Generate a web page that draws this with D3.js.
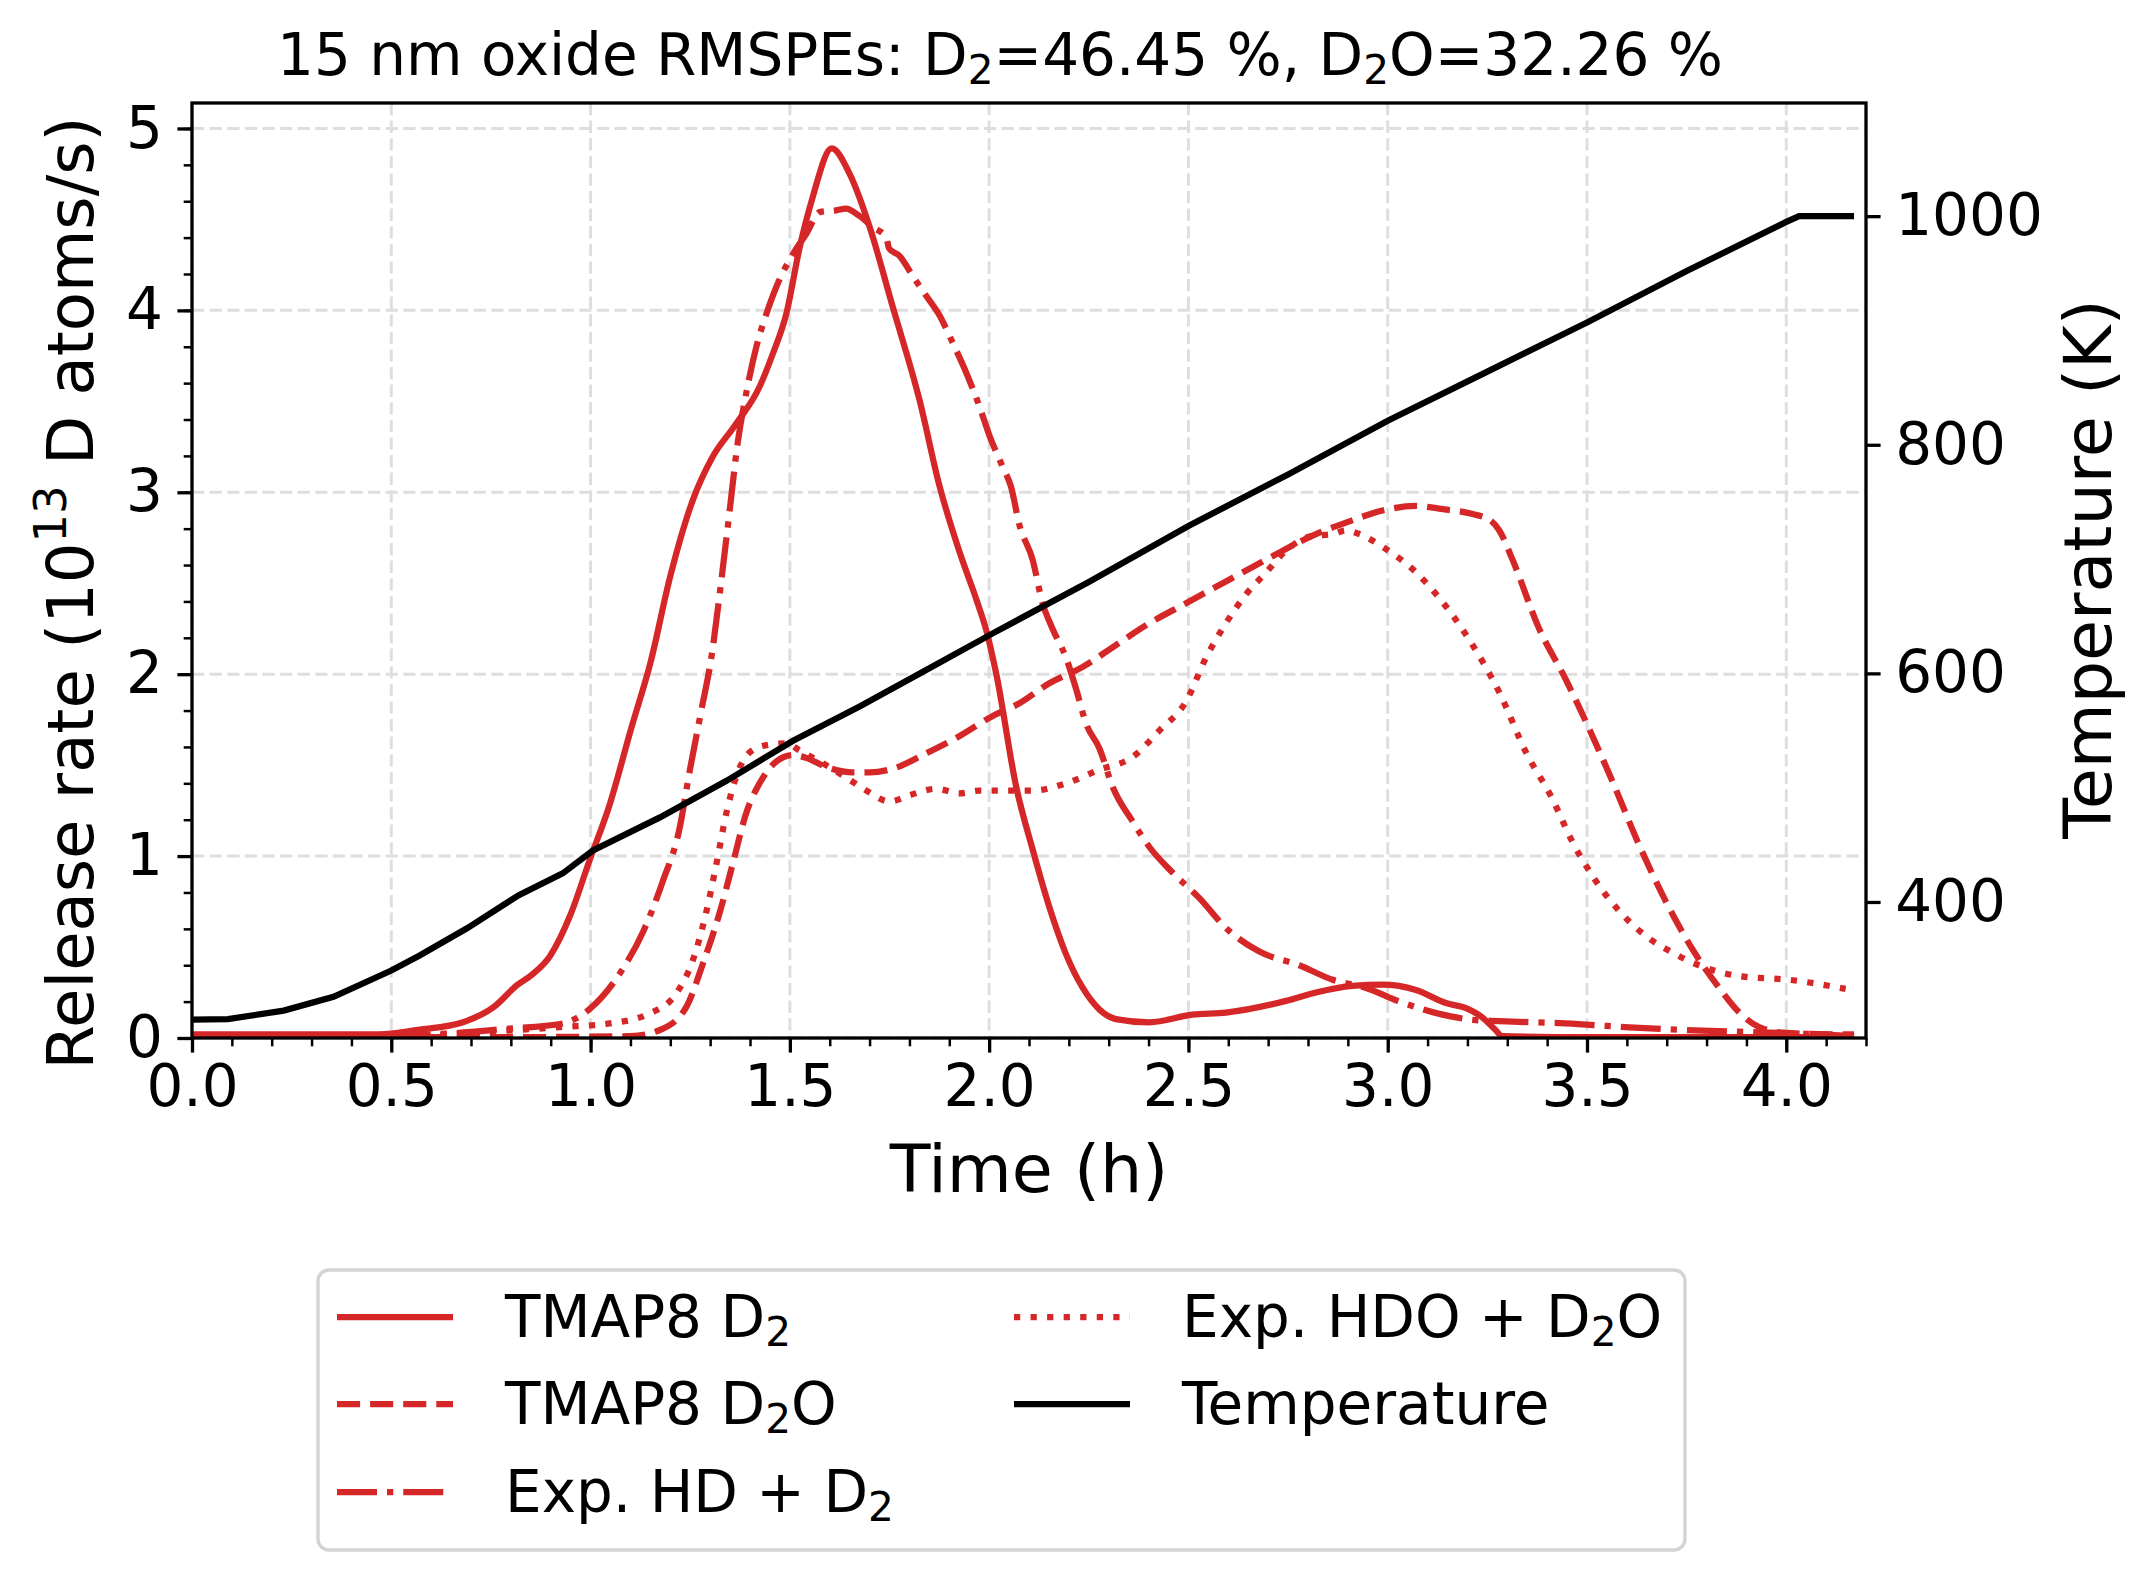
<!DOCTYPE html>
<html>
<head>
<meta charset="utf-8">
<style>
body { margin: 0; background: #fff; }
text { font-family: "DejaVu Sans", sans-serif; fill: #000; }
</style>
</head>
<body>
<script src="https://cdnjs.cloudflare.com/ajax/libs/d3/7.8.5/d3.min.js"></script>
<script>

// TMAP8 D2 (solid)
var d2Time = [0, 0.47, 0.567, 0.68, 0.757, 0.815, 0.854, 0.898, 0.95, 0.998, 1.046, 1.103, 1.151, 1.199, 1.257, 1.305,
  1.363, 1.424, 1.457, 1.491, 1.525, 1.557, 1.605, 1.65, 1.70, 1.758, 1.825, 1.876, 1.926, 1.968, 1.993, 2.018,
  2.068, 2.11, 2.151, 2.193, 2.235, 2.277, 2.318, 2.402, 2.51, 2.594, 2.745, 2.82, 2.911, 2.987, 3.071, 3.146,
  3.195, 3.236, 3.27, 3.287, 3.5, 4.17];
var d2Rate = [0.02, 0.02, 0.045, 0.087, 0.17, 0.29, 0.35, 0.45, 0.68, 0.98, 1.27, 1.71, 2.07, 2.53, 2.96, 3.19,
  3.37, 3.58, 3.76, 3.98, 4.35, 4.62, 4.89, 4.75, 4.46, 4.02, 3.51, 3.03, 2.67, 2.41, 2.24, 2.0,
  1.38, 1.03, 0.72, 0.46, 0.275, 0.156, 0.104, 0.086, 0.128, 0.14, 0.204, 0.25, 0.286, 0.293, 0.264, 0.192,
  0.165, 0.115, 0.045, 0.01, 0.005, 0.005];

// TMAP8 D2O (dashed)
var d2oTime = [0, 0.8, 1.1, 1.174, 1.24, 1.282, 1.324, 1.357, 1.391, 1.424, 1.466, 1.508, 1.541, 1.591, 1.658, 1.70,
  1.758, 1.842, 1.926, 2.009, 2.076, 2.151, 2.235, 2.318, 2.402, 2.494, 2.594, 2.695, 2.82, 2.904, 2.987, 3.071,
  3.129, 3.213, 3.255, 3.28, 3.313, 3.38, 3.447, 3.497, 3.564, 3.631, 3.698, 3.764, 3.83, 3.882, 3.932, 3.999,
  4.13, 4.17];
var d2oRate = [0.005, 0.005, 0.01, 0.044, 0.17, 0.41, 0.69, 0.96, 1.24, 1.40, 1.52, 1.555, 1.54, 1.49, 1.46, 1.46,
  1.48, 1.565, 1.66, 1.77, 1.84, 1.95, 2.04, 2.16, 2.28, 2.39, 2.51, 2.63, 2.77, 2.84, 2.90, 2.925,
  2.91, 2.88, 2.85, 2.79, 2.63, 2.25, 1.97, 1.74, 1.41, 1.06, 0.75, 0.49, 0.28, 0.14, 0.06, 0.028,
  0.02, 0.02];

// Exp. HD + D2 (dash-dot)
var hdTime = [0, 0.3, 0.6, 0.787, 0.93, 0.998, 1.075, 1.133, 1.181, 1.224, 1.248, 1.276, 1.305, 1.325, 1.349, 1.369,
  1.391, 1.416, 1.441, 1.474, 1.508, 1.541, 1.575, 1.616, 1.641, 1.674, 1.707, 1.742, 1.749, 1.775, 1.808, 1.842,
  1.876, 1.909, 1.942, 1.976, 2.001, 2.034, 2.055, 2.076, 2.109, 2.134, 2.159, 2.193, 2.218, 2.243, 2.277, 2.31,
  2.36, 2.402, 2.46, 2.527, 2.594, 2.678, 2.778, 2.862, 2.946, 3.03, 3.155, 3.213, 3.28, 3.447, 3.597, 3.73,
  3.88, 4.05, 4.17];
var hdRate = [0.01, 0.01, 0.02, 0.05, 0.08, 0.16, 0.36, 0.59, 0.86, 1.16, 1.46, 1.78, 2.12, 2.46, 2.90, 3.27,
  3.55, 3.80, 3.98, 4.17, 4.31, 4.42, 4.54, 4.55, 4.56, 4.52, 4.46, 4.40, 4.34, 4.30, 4.19, 4.08,
  3.97, 3.82, 3.66, 3.47, 3.31, 3.14, 3.03, 2.82, 2.63, 2.39, 2.25, 2.09, 1.92, 1.73, 1.59, 1.38,
  1.19, 1.05, 0.91, 0.77, 0.605, 0.475, 0.40, 0.32, 0.275, 0.20, 0.12, 0.10, 0.093, 0.08, 0.06, 0.045,
  0.035, 0.023, 0.01];

// Exp. HDO + D2O (dotted)
var hdoTime = [0, 0.5, 0.787, 0.923, 1.048, 1.148, 1.215, 1.257, 1.29, 1.316, 1.341, 1.366, 1.399, 1.441, 1.491, 1.525,
  1.583, 1.65, 1.692, 1.751, 1.801, 1.867, 1.926, 1.976, 2.059, 2.109, 2.193, 2.277, 2.36, 2.427, 2.494, 2.544,
  2.594, 2.645, 2.695, 2.745, 2.812, 2.862, 2.895, 2.929, 2.987, 3.071, 3.129, 3.213, 3.28, 3.347, 3.413, 3.463,
  3.514, 3.58, 3.648, 3.714, 3.781, 3.882, 4.007, 4.149];
var hdoRate = [0.01, 0.01, 0.04, 0.06, 0.08, 0.135, 0.245, 0.43, 0.69, 0.96, 1.24, 1.44, 1.57, 1.61, 1.62, 1.58,
  1.51, 1.42, 1.36, 1.30, 1.335, 1.37, 1.345, 1.36, 1.36, 1.36, 1.40, 1.475, 1.545, 1.69, 1.85, 2.09,
  2.28, 2.44, 2.56, 2.68, 2.76, 2.77, 2.79, 2.77, 2.70, 2.56, 2.42, 2.16, 1.90, 1.57, 1.315, 1.08,
  0.89, 0.70, 0.56, 0.47, 0.40, 0.34, 0.32, 0.27];

// Temperature (K)
var tempTime = [0, 0.09, 0.23, 0.355, 0.5, 0.57, 0.69, 0.82, 0.93, 1.006, 1.174, 1.341, 1.508, 1.675, 1.842, 2.009,
  2.25, 2.5, 2.75, 3.0, 3.25, 3.5, 3.75, 4.0, 4.032, 4.17];
var tempK = [297, 297.5, 305, 317, 340, 353, 377, 406, 425, 445, 474, 506, 541, 571, 603, 635,
  680, 729, 774, 821, 864, 907, 952, 995, 1000, 1000];

var xTicks = [0, 0.5, 1, 1.5, 2, 2.5, 3, 3.5, 4];
var yTicks = [0, 1, 2, 3, 4, 5];
var tTicks = [400, 600, 800, 1000];

var red = '#d62728';
var W = 2156, H = 1580;
var pl = 192, pr = 1866, pt = 103, pb = 1038;

var x = d3.scaleLinear().domain([0, 4.2]).range([pl, pr]);
var y = d3.scaleLinear().domain([0, 5.14]).range([pb, pt]);
var yT = d3.scaleLinear().domain([281, 1099]).range([pb, pt]);

var svg = d3.select('body').append('svg')
    .attr('width', W)
    .attr('height', H);

svg.append('rect').attr('width', W).attr('height', H).attr('fill', '#fff');

// text with sub/superscripts
function rich(sel, parts, fs) {
  var shift = 0;
  parts.forEach(function(p) {
    var target = p.sub ? fs * 0.15 : p.sup ? -fs * 0.42 : 0;
    sel.append('tspan')
      .attr('dy', target - shift)
      .attr('font-size', (p.sub || p.sup) ? fs * 0.7 : fs)
      .text(p.sub || p.sup || p.t);
    shift = target;
  });
}

// grid
var grid = svg.append('g')
    .attr('stroke', '#dedede')
    .attr('stroke-width', 3)
    .attr('stroke-dasharray', '12.3,5.3');
grid.selectAll('.gx').data(xTicks).enter().append('line')
    .attr('x1', x).attr('x2', x).attr('y1', pt).attr('y2', pb);
grid.selectAll('.gy').data(yTicks).enter().append('line')
    .attr('y1', y).attr('y2', y).attr('x1', pl).attr('x2', pr);

svg.append('clipPath').attr('id', 'clip')
  .append('rect').attr('x', pl).attr('y', pt).attr('width', pr - pl).attr('height', pb - pt);

var plot = svg.append('g').attr('clip-path', 'url(#clip)');

var lineL = d3.line().x(function(d) { return x(d[0]); }).y(function(d) { return y(d[1]); }).curve(d3.curveMonotoneX);
var lineT = d3.line().x(function(d) { return x(d[0]); }).y(function(d) { return yT(d[1]); });

var series = [
  { t: d2Time, v: d2Rate, dash: null },
  { t: d2oTime, v: d2oRate, dash: '23.1,10' },
  { t: hdTime, v: hdRate, dash: '40,10,6.25,10' },
  { t: hdoTime, v: hdoRate, dash: '6.25,10.3' }
];

series.forEach(function(s) {
  plot.append('path')
    .attr('d', lineL(d3.zip(s.t, s.v)))
    .attr('fill', 'none')
    .attr('stroke', red)
    .attr('stroke-width', 6.25)
    .attr('stroke-dasharray', s.dash);
});

plot.append('path')
    .attr('d', lineT(d3.zip(tempTime, tempK)))
    .attr('fill', 'none')
    .attr('stroke', '#000')
    .attr('stroke-width', 6.25);

// axes
var fs = 58, lfs = 66.7;
var xAxis = d3.axisBottom(x).tickValues(xTicks).tickFormat(d3.format('.1f')).tickSizeInner(14.6).tickSizeOuter(0).tickPadding(12);
var xMinor = d3.axisBottom(x).tickValues(d3.range(0, 4.2001, 0.1)).tickFormat('').tickSizeInner(8.3).tickSizeOuter(0);
var yAxis = d3.axisLeft(y).tickValues(yTicks).tickFormat(d3.format('d')).tickSizeInner(14.6).tickSizeOuter(0).tickPadding(14.6);
var yMinor = d3.axisLeft(y).tickValues(d3.range(0, 5.01, 0.2)).tickFormat('').tickSizeInner(8.3).tickSizeOuter(0);
var tAxis = d3.axisRight(yT).tickValues(tTicks).tickFormat(d3.format('d')).tickSizeInner(14.6).tickSizeOuter(0).tickPadding(14.6);

function style(g, w) {
  g.select('.domain').remove();
  g.selectAll('line').attr('stroke', '#000').attr('stroke-width', w);
  g.selectAll('text').attr('font-size', fs).attr('font-family', 'DejaVu Sans').attr('fill', '#000');
}

svg.append('g').attr('transform', 'translate(0,' + pb + ')').call(xMinor).call(style, 2.5);
svg.append('g').attr('transform', 'translate(0,' + pb + ')').call(xAxis).call(style, 3.3);
svg.append('g').attr('transform', 'translate(' + pl + ',0)').call(yMinor).call(style, 2.5);
svg.append('g').attr('transform', 'translate(' + pl + ',0)').call(yAxis).call(style, 3.3);
svg.append('g').attr('transform', 'translate(' + pr + ',0)').call(tAxis).call(style, 3.3);

svg.append('rect')
    .attr('x', pl).attr('y', pt).attr('width', pr - pl).attr('height', pb - pt)
    .attr('fill', 'none').attr('stroke', '#000').attr('stroke-width', 3.3);

// title and labels
var title = svg.append('text').attr('x', 1000).attr('y', 75).attr('text-anchor', 'middle').attr('font-size', fs);
rich(title, [{ t: '15 nm oxide RMSPEs: D' }, { sub: '2' }, { t: '=46.45 %, D' }, { sub: '2' }, { t: 'O=32.26 %' }], fs);

svg.append('text').attr('x', (pl + pr) / 2).attr('y', 1192).attr('text-anchor', 'middle')
    .attr('font-size', lfs).text('Time (h)');

var ylab = svg.append('text').attr('transform', 'translate(93,593) rotate(-90)')
    .attr('text-anchor', 'middle').attr('font-size', 64);
rich(ylab, [{ t: 'Release rate (10' }, { sup: '13' }, { t: ' D atoms/s)' }], 64);

svg.append('text').attr('transform', 'translate(2111,569) rotate(-90)')
    .attr('text-anchor', 'middle').attr('font-size', lfs).text('Temperature (K)');

// legend
var legendItems = [
  { parts: [{ t: 'TMAP8 D' }, { sub: '2' }], color: red, dash: null, col: 0, row: 0 },
  { parts: [{ t: 'TMAP8 D' }, { sub: '2' }, { t: 'O' }], color: red, dash: '23.1,10', col: 0, row: 1 },
  { parts: [{ t: 'Exp. HD + D' }, { sub: '2' }], color: red, dash: '40,10,6.25,10', col: 0, row: 2 },
  { parts: [{ t: 'Exp. HDO + D' }, { sub: '2' }, { t: 'O' }], color: red, dash: '6.25,10.3', col: 1, row: 0 },
  { parts: [{ t: 'Temperature' }], color: '#000', dash: null, col: 1, row: 1 }
];

var legend = svg.append('g');
legend.append('rect')
    .attr('x', 318).attr('y', 1270).attr('width', 1367).attr('height', 280)
    .attr('rx', 11).attr('ry', 11)
    .attr('fill', '#fff').attr('stroke', '#d3d3d3').attr('stroke-width', 3.3);

var colX = [337, 1014];
var rowY = [1317, 1404, 1492];
legendItems.forEach(function(it) {
  var lx = colX[it.col], ly = rowY[it.row];
  legend.append('line')
    .attr('x1', lx).attr('x2', lx + 116).attr('y1', ly).attr('y2', ly)
    .attr('stroke', it.color).attr('stroke-width', 6.25)
    .attr('stroke-dasharray', it.dash);
  var t = legend.append('text').attr('x', lx + 168).attr('y', ly + 20).attr('font-size', fs);
  rich(t, it.parts, fs);
});

</script>
</body>
</html>
